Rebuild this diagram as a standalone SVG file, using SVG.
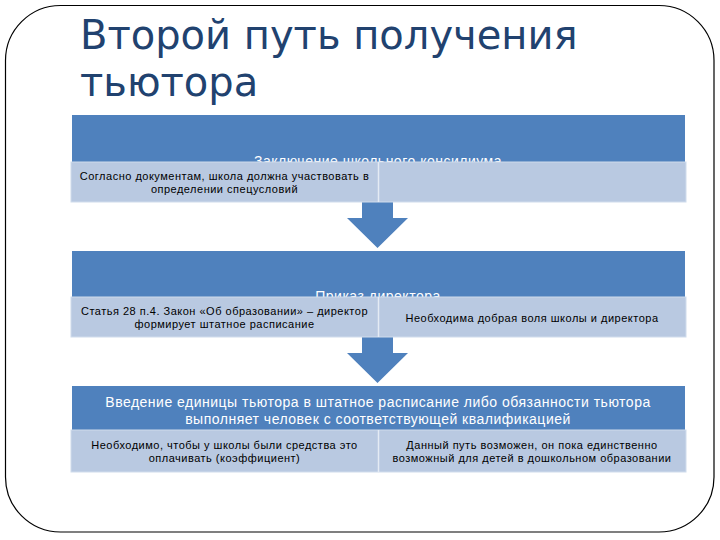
<svg xmlns="http://www.w3.org/2000/svg" width="720" height="540" viewBox="0 0 720 540">
<style>
.hdr{fill:#4F81BD}
.sub{fill:#B9C9E1;stroke:#D0DCEC;stroke-width:1}
.div{stroke:#E4EBF4;stroke-width:1.5}
.ht{font-family:"Liberation Sans",Arial,sans-serif;font-size:14px;letter-spacing:0.5px;fill:#FFFFFF;text-anchor:middle}
.st{font-family:"Liberation Sans",Arial,sans-serif;font-size:11px;letter-spacing:0.5px;fill:#000000;text-anchor:middle}
.title{font-family:"DejaVu Sans",Verdana,sans-serif;font-size:40px;fill:#21426F}
.arrow{fill:#4F81BD}
</style>
<rect x="0" y="0" width="720" height="540" fill="#FFFFFF"/>
<rect x="5.5" y="5.5" width="708.5" height="526.5" rx="55" ry="55" fill="none" stroke="#000000" stroke-width="1.2"/>
<text class="title" x="80" y="49">Второй путь получения</text>
<text class="title" x="80" y="96">тьютора</text>
<g id="connectors">
<polygon class="arrow" points="362,202 393,202 393,218 408,218 377.5,248 347,218 362,218"/>
<polygon class="arrow" points="362,337 393,337 393,353 408,353 377.5,383 347,353 362,353"/>
</g>
<g id="node1">
<rect class="hdr" x="72" y="115" width="613" height="47"/>
<text class="ht" x="378" y="166">Заключение школьного консилиума</text>
<rect class="sub" x="71" y="162" width="615" height="40"/>
<line class="div" x1="378.5" y1="162" x2="378.5" y2="202"/>
<text class="st" x="224.5" y="180">Согласно документам, школа должна участвовать в</text>
<text class="st" x="224.5" y="193">определении спецусловий</text>
</g>
<g id="node2">
<rect class="hdr" x="72" y="251" width="613" height="46"/>
<text class="ht" x="378" y="301">Приказ директора</text>
<rect class="sub" x="71" y="297" width="615" height="40"/>
<line class="div" x1="378.5" y1="297" x2="378.5" y2="337"/>
<text class="st" x="224.5" y="315">Статья 28 п.4. Закон «Об образовании» – директор</text>
<text class="st" x="224.5" y="328">формирует штатное расписание</text>
<text class="st" x="532" y="322">Необходима добрая воля школы и директора</text>
</g>
<g id="node3">
<rect class="hdr" x="72" y="386" width="613" height="44"/>
<text class="ht" x="378" y="407">Введение единицы тьютора в штатное расписание либо обязанности тьютора</text>
<text class="ht" x="378" y="424">выполняет человек с соответствующей квалификацией</text>
<rect class="sub" x="71" y="430" width="615" height="42"/>
<line class="div" x1="378.5" y1="430" x2="378.5" y2="472"/>
<text class="st" x="224.5" y="449">Необходимо, чтобы у школы были средства это</text>
<text class="st" x="224.5" y="462">оплачивать (коэффициент)</text>
<text class="st" x="532" y="449">Данный путь возможен, он пока единственно</text>
<text class="st" x="532" y="462">возможный для детей в дошкольном образовании</text>
</g>
</svg>
